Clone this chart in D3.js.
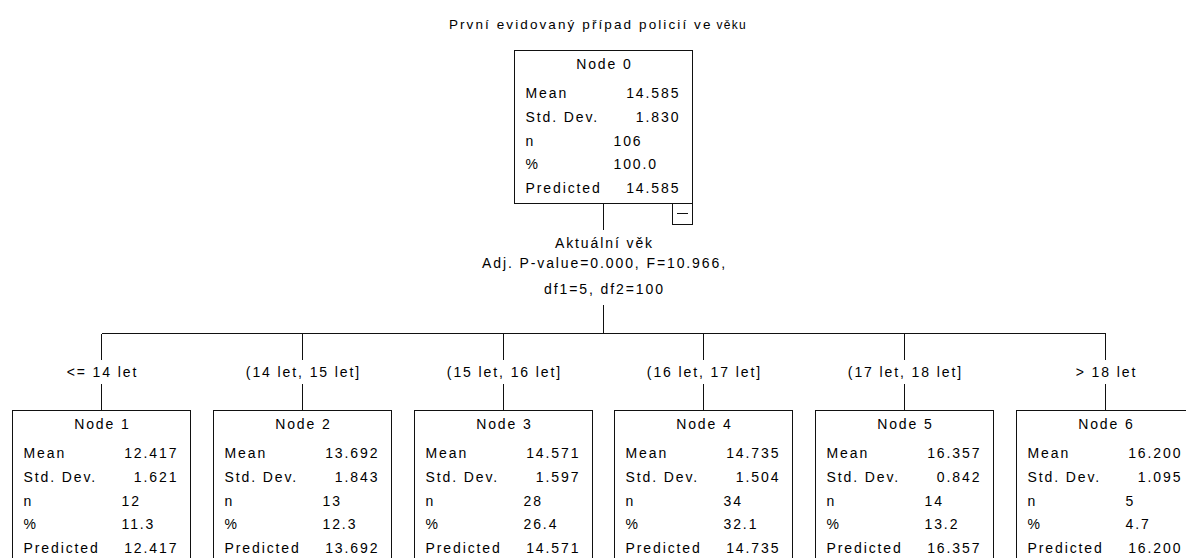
<!DOCTYPE html>
<html lang="cs">
<head>
<meta charset="UTF-8">
<title>Strom - první evidovaný případ</title>
<style>
body { margin: 0; background: #fff; }
svg text { font-family: "Liberation Sans", Arial, sans-serif; font-size: 14px; fill: #000; letter-spacing: 1.9px; }
.link { stroke: #111; stroke-width: 1; fill: none; shape-rendering: crispEdges; }
.box { stroke: #111; stroke-width: 1; fill: #fff; shape-rendering: crispEdges; }
</style>
</head>
<body>
<svg width="1186" height="558"></svg>
<script src="https://cdn.jsdelivr.net/npm/d3@7"></script>
<script>

// ---- data read from the tree ----
var nodeIds   = [0, 1, 2, 3, 4, 5, 6];
var parentIds = [null, 0, 0, 0, 0, 0, 0];
var means     = [14.585, 12.417, 13.692, 14.571, 14.735, 16.357, 16.200];
var stdDevs   = [1.830, 1.621, 1.843, 1.597, 1.504, 0.842, 1.095];
var counts    = [106, 12, 13, 28, 34, 14, 5];
var percents  = [100.0, 11.3, 12.3, 26.4, 32.1, 13.2, 4.7];
var predicted = [14.585, 12.417, 13.692, 14.571, 14.735, 16.357, 16.200];
var branchLabels = ["", "<= 14 let", "(14 let, 15 let]", "(15 let, 16 let]",
                    "(16 let, 17 let]", "(17 let, 18 let]", "> 18 let"];
var titleMain = "První evidovaný případ policií ve";
var titleTail = "věku";
var splitVariable = "Aktuální věk";
var splitStats = ["Adj. P-value=0.000, F=10.966,", "df1=5, df2=100"];

var svg = d3.select("svg"),
    ls = 1.9,
    boxW = 178, boxH = 153,
    rootX = 603;

var table = nodeIds.map(function(id, i) {
  return {id: id, parent: parentIds[i], mean: means[i], sd: stdDevs[i], n: counts[i],
          pct: percents[i], pred: predicted[i], label: branchLabels[i]};
});

var root = d3.stratify()
    .id(function(d) { return d.id; })
    .parentId(function(d) { return d.parent; })(table);

d3.tree().nodeSize([200.8, 1])(root);

var y = d3.scaleLinear().domain([0, 1]).range([50, 410]);

var g = svg.append("g").attr("transform", "translate(" + rootX + ",0)");

// title
var title = svg.append("text")
    .attr("x", 598)
    .attr("y", 29)
    .attr("text-anchor", "middle")
    .style("font-size", "13.5px")
    .style("letter-spacing", "2.1px");
title.append("tspan").text(titleMain);
title.append("tspan").attr("dx", 4).style("font-size", "12px").style("letter-spacing", "1.3px").text(titleTail);

// split info under the root
var rx = Math.round(root.x) + 0.5,
    rBottom = y(0) + boxH;
g.append("path").attr("class", "link")
    .attr("d", "M" + rx + "," + rBottom + "V230");
g.append("path").attr("class", "link")
    .attr("d", "M" + rx + ",305V333.5");

var splitLines = [splitVariable].concat(splitStats),
    splitY = [243, 263, 289];
g.selectAll(".split")
  .data(splitLines)
  .enter().append("text")
    .attr("class", "split")
    .attr("x", rx + ls / 2)
    .attr("y", function(d, i) { return splitY[i]; })
    .attr("dy", "0.35em")
    .attr("text-anchor", "middle")
    .text(function(d) { return d; });

// horizontal bar across the children
var kids = root.children;
g.append("path").attr("class", "link")
    .attr("d", "M" + (Math.round(kids[0].x) + 0.5) + ",333.5H" + (Math.round(kids[kids.length - 1].x) + 0.5));

kids.forEach(function(c) {
  var cx = Math.round(c.x) + 0.5;
  g.append("path").attr("class", "link").attr("d", "M" + cx + ",333.5V360");
  g.append("path").attr("class", "link").attr("d", "M" + cx + ",384V" + y(c.depth));
  g.append("text")
      .attr("x", cx + ls / 2)
      .attr("y", 372)
      .attr("dy", "0.35em")
      .attr("text-anchor", "middle")
      .text(c.data.label);
});

// node boxes
var rows = [
  {name: "Mean", key: "mean", fmt: d3.format(".3f"), align: "end"},
  {name: "Std. Dev.", key: "sd", fmt: d3.format(".3f"), align: "end"},
  {name: "n", key: "n", fmt: d3.format("d"), align: "start"},
  {name: "%", key: "pct", fmt: d3.format(".1f"), align: "start"},
  {name: "Predicted", key: "pred", fmt: d3.format(".3f"), align: "end"}
];

var node = g.selectAll(".node")
  .data(root.descendants())
  .enter().append("g")
    .attr("class", "node")
    .attr("transform", function(d) {
      return "translate(" + (Math.round(d.x - boxW / 2) + 0.5) + "," + (y(d.depth) + 0.5) + ")";
    });

node.append("rect")
    .attr("class", "box")
    .attr("width", boxW)
    .attr("height", boxH);

node.append("text")
    .attr("x", boxW / 2 + ls / 2)
    .attr("y", 14)
    .attr("dy", "0.35em")
    .attr("text-anchor", "middle")
    .text(function(d) { return "Node " + d.data.id; });

rows.forEach(function(r, i) {
  var ry = 42.5 + i * 23.8;
  node.append("text")
      .attr("x", 11)
      .attr("y", ry)
      .attr("dy", "0.35em")
      .text(r.name);
  node.append("text")
      .attr("x", function(d) { return r.align == "end" ? 164 + ls : (d.depth == 0 ? 99 : 109); })
      .attr("y", ry)
      .attr("dy", "0.35em")
      .attr("text-anchor", r.align)
      .text(function(d) { return r.fmt(d.data[r.key]); });
});

// collapse toggle on the root
var toggle = node.filter(function(d) { return d.children; })
  .append("g")
    .attr("transform", "translate(" + (boxW - 20) + "," + boxH + ")");
toggle.append("rect").attr("class", "box").attr("width", 20).attr("height", 21);
toggle.append("path").attr("class", "link").attr("d", "M4,10H15");

</script>
</body>
</html>
